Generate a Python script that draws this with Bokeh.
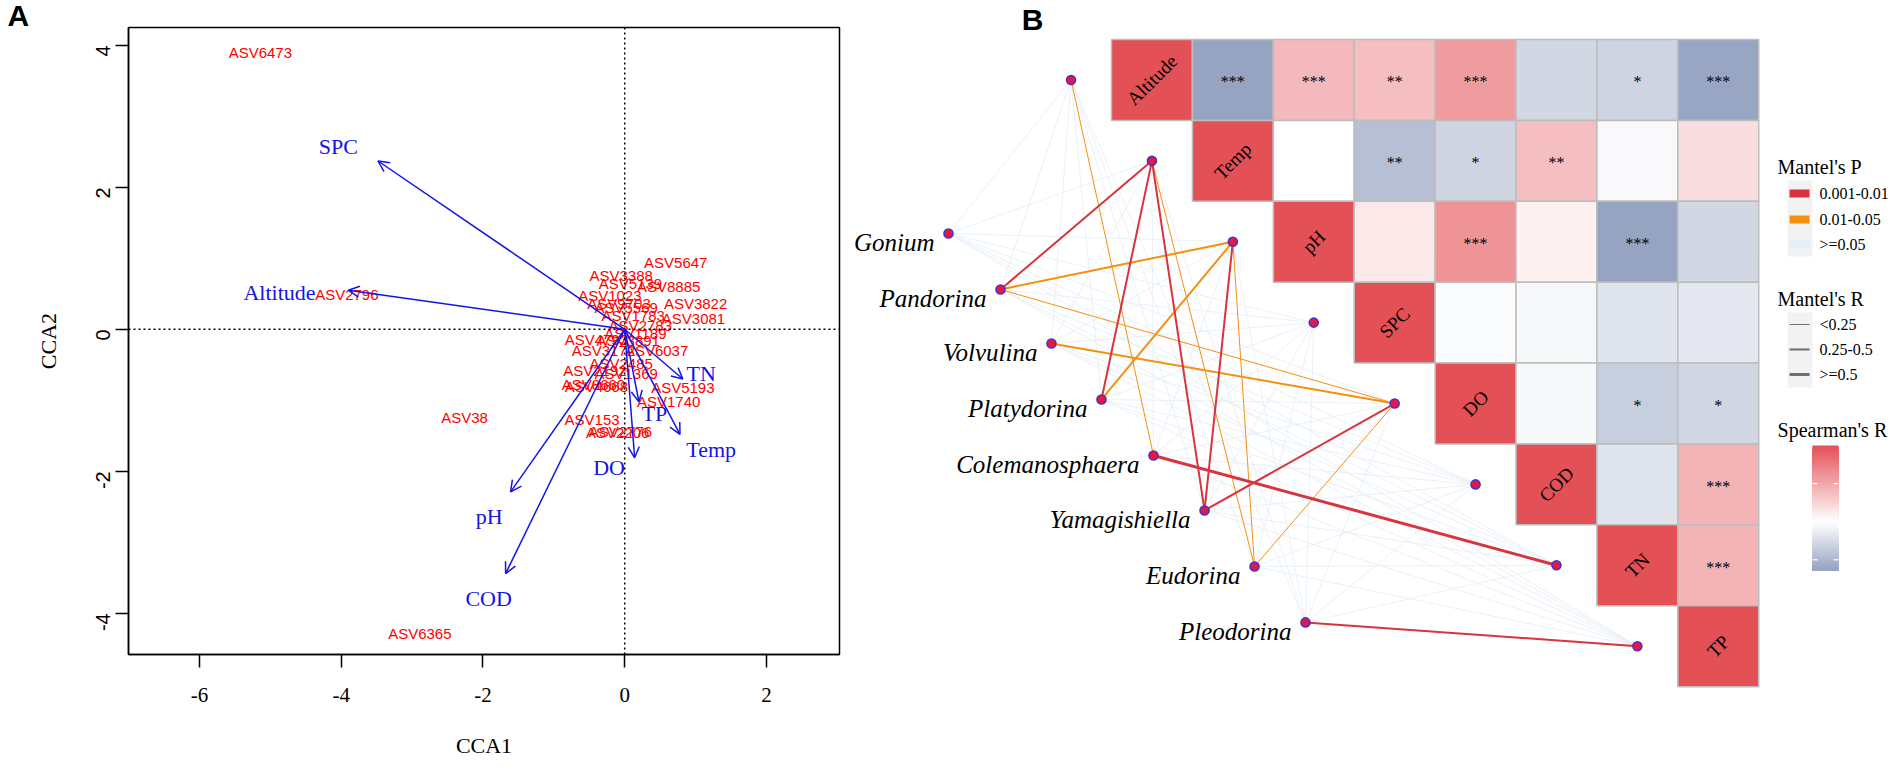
import math
from bokeh.plotting import figure
from bokeh.models import (ColumnDataSource, Range1d, Span, Arrow, OpenHead,
                          LinearColorMapper, FixedTicker, Title)
from bokeh.transform import transform
from bokeh.layouts import row, column
from bokeh.core.properties import value
from bokeh.embed import file_html
from bokeh.resources import INLINE

SERIF = "Liberation Serif"
SANS = "Liberation Sans"

# ---------------- Panel A data (CCA biplot) ----------------
asv_names = ["ASV6473", "ASV2796", "ASV38", "ASV6365", "ASV153", "ASV2206", "ASV2776",
             "ASV8660", "ASV4668", "ASV2192", "ASV2485", "ASV1369", "ASV4793", "ASV3172",
             "ASV6037", "ASV5193", "ASV1740", "ASV1023", "ASV5569", "ASV9703", "ASV1783",
             "ASV3388", "ASV5139", "ASV5647", "ASV8885", "ASV3822", "ASV3081", "ASV2783",
             "ASV1189", "ASV3891"]
asv_x = [-5.14, -3.92, -2.26, -2.89, -0.46, -0.10, -0.06,
         -0.44, -0.40, -0.42, -0.05, 0.02, -0.40, -0.30,
         0.45, 0.82, 0.62, -0.21, 0.02, -0.08, 0.12,
         -0.05, 0.08, 0.72, 0.62, 1.00, 0.97, 0.22,
         0.15, 0.05]
asv_y = [3.90, 0.49, -1.24, -4.29, -1.27, -1.45, -1.44,
         -0.78, -0.80, -0.58, -0.48, -0.62, -0.15, -0.30,
         -0.30, -0.82, -1.02, 0.48, 0.31, 0.36, 0.20,
         0.76, 0.64, 0.94, 0.60, 0.36, 0.15, 0.05,
         -0.06, -0.16]

env_arrow_names = ["SPC", "Altitude", "pH", "COD", "DO", "TP", "TN", "Temp"]
env_tip_x = [-3.48, -3.90, -1.61, -1.68, 0.14, 0.20, 0.82, 0.78]
env_tip_y = [2.37, 0.55, -2.29, -3.44, -1.81, -1.02, -0.70, -1.48]
env_lab_x = [-4.04, -4.87, -1.91, -1.92, -0.22, 0.42, 1.08, 1.22]
env_lab_y = [2.58, 0.52, -2.64, -3.79, -1.95, -1.18, -0.62, -1.70]

xticks_A = [-6, -4, -2, 0, 2]
yticks_A = [-4, -2, 0, 2, 4]

# ---------------- Panel B data (Mantel + Spearman) ----------------
env = ["Altitude", "Temp", "pH", "SPC", "DO", "COD", "TN", "TP"]
# upper triangle rows, starting at the diagonal
spearman_rows = [
    [1.00, -0.64, 0.40, 0.37, 0.57, -0.28, -0.30, -0.62],
    [1.00, 0.00, -0.44, -0.30, 0.37, -0.04, 0.19],
    [1.00, 0.14, 0.62, 0.08, -0.64, -0.28],
    [1.00, -0.03, -0.05, -0.19, -0.17],
    [1.00, -0.05, -0.34, -0.28],
    [1.00, -0.19, 0.43],
    [1.00, 0.43],
    [1.00],
]
star_rows = [
    ["", "***", "***", "**", "***", "", "*", "***"],
    ["", "", "**", "*", "**", "", ""],
    ["", "", "***", "", "***", ""],
    ["", "", "", "", ""],
    ["", "", "*", "*"],
    ["", "", "***"],
    ["", "***"],
    [""],
]

species = ["Gonium", "Pandorina", "Volvulina", "Platydorina", "Colemanosphaera",
           "Yamagishiella", "Eudorina", "Pleodorina"]
species_x = [-2.015, -1.372, -0.742, -0.124, 0.519, 1.150, 1.768, 2.398]
species_y = [2.398, 3.090, 3.758, 4.450, 5.142, 5.822, 6.514, 7.206]

# Mantel's P class: 0 = >=0.05, 1 = 0.01-0.05, 2 = 0.001-0.01   (species x env)
mantel_p_class = [
    [0, 0, 0, 0, 0, 0, 0, 0],
    [0, 2, 1, 0, 1, 0, 0, 0],
    [0, 0, 0, 0, 1, 0, 0, 0],
    [0, 2, 1, 0, 0, 0, 0, 0],
    [1, 0, 0, 0, 0, 0, 2, 0],
    [0, 2, 2, 0, 2, 0, 0, 0],
    [0, 1, 1, 0, 1, 0, 0, 0],
    [0, 0, 0, 0, 0, 0, 0, 2],
]
# Mantel's R class: 0 = <0.25, 1 = 0.25-0.5, 2 = >=0.5
mantel_r_class = [
    [0, 0, 0, 0, 0, 0, 0, 0],
    [0, 1, 1, 0, 0, 0, 0, 0],
    [0, 0, 0, 0, 1, 0, 0, 0],
    [0, 1, 1, 0, 0, 0, 0, 0],
    [0, 0, 0, 0, 0, 0, 2, 0],
    [0, 1, 1, 0, 1, 0, 0, 0],
    [0, 0, 0, 0, 0, 0, 0, 0],
    [0, 0, 0, 0, 0, 0, 0, 1],
]
p_labels = ["0.001-0.01", "0.01-0.05", ">=0.05"]
r_labels = ["<0.25", "0.25-0.5", ">=0.5"]
colorbar_ticks = [0.5, 0.0, -0.5]

# ---------------- styles ----------------
P_COLORS = {0: "#E3EEF8", 1: "#F5900F", 2: "#D8343F"}
R_WIDTHS = {0: 1.0, 1: 2.0, 2: 3.0}


def lerp_hex(c1, c2, t):
    a = [int(c1[i:i + 2], 16) for i in (1, 3, 5)]
    b = [int(c2[i:i + 2], 16) for i in (1, 3, 5)]
    return "#%02x%02x%02x" % tuple(round(a[k] + (b[k] - a[k]) * t) for k in range(3))


LOW, MID, HIGH = "#5A6E9E", "#FFFFFF", "#E35157"
palette = [lerp_hex(LOW, MID, i / 127) for i in range(128)] + \
          [lerp_hex(MID, HIGH, i / 127) for i in range(128)]
mapper = LinearColorMapper(palette=palette, low=-1, high=1)

# ================= Panel A =================
pA = figure(frame_width=711, frame_height=627,
            min_border_left=128, min_border_right=3, min_border_top=27, min_border_bottom=109,
            x_range=Range1d(-7, 3.03), y_range=Range1d(-4.58, 4.25),
            output_backend="svg", toolbar_location=None,
            x_axis_label="CCA1", y_axis_label="CCA2")
pA.title.visible = False
ttl = Title(text="A", align="left", offset=-121,
            text_font=SANS, text_font_style="bold", text_font_size="30px",
            text_color="black")
try:
    ttl.standoff = -8
except Exception:
    ttl.standoff = 0
pA.add_layout(ttl, "above")
pA.grid.visible = False
pA.background_fill_color = "white"
pA.outline_line_color = "black"
pA.outline_line_width = 1.5
pA.outline_line_alpha = 1.0

xa = pA.xaxis[0]
ya = pA.yaxis[0]
xa.ticker = FixedTicker(ticks=xticks_A)
ya.ticker = FixedTicker(ticks=yticks_A)
xa.major_label_overrides = {t: str(t) for t in xticks_A}
ya.major_label_overrides = {t: str(t) for t in yticks_A}
for ax in (xa, ya):
    ax.major_tick_out = 13
    ax.major_tick_in = 0
    ax.minor_tick_out = 0
    ax.minor_tick_in = 0
    ax.major_tick_line_width = 1.5
    ax.major_tick_line_color = "black"
    ax.axis_line_width = 1.5
    ax.axis_line_color = "black"
    ax.axis_label_text_font = SERIF
    ax.axis_label_text_font_style = "normal"
    ax.axis_label_text_font_size = "22px"
    ax.axis_label_text_color = "black"
    ax.major_label_text_color = "black"
xa.major_label_text_font = SERIF
xa.major_label_text_font_size = "21px"
xa.major_label_standoff = 20
xa.axis_label_standoff = 28
ya.major_label_text_font = SANS
ya.major_label_text_font_size = "20px"
ya.major_label_orientation = math.pi / 2
ya.major_label_standoff = 12
ya.axis_label_standoff = 26

pA.add_layout(Span(location=0, dimension="height", line_color="black",
                   line_width=1.5, line_dash="2 3"))
pA.add_layout(Span(location=0, dimension="width", line_color="black",
                   line_width=1.5, line_dash="2 3"))

asv_src = ColumnDataSource(dict(x=asv_x, y=asv_y, t=asv_names))
pA.text(x="x", y="y", text="t", source=asv_src, text_color="#FF0000",
        text_font=value(SANS), text_font_size="15px",
        text_align="center", text_baseline="middle")

arr_src = ColumnDataSource(dict(x0=[0.0] * len(env_tip_x), y0=[0.0] * len(env_tip_y),
                                x1=env_tip_x, y1=env_tip_y))
pA.add_layout(Arrow(end=OpenHead(size=11, line_color="#1414E6", line_width=1.5),
                    source=arr_src, x_start="x0", y_start="y0", x_end="x1", y_end="y1",
                    line_color="#1414E6", line_width=1.5))
env_src = ColumnDataSource(dict(x=env_lab_x, y=env_lab_y, t=env_arrow_names))
pA.text(x="x", y="y", text="t", source=env_src, text_color="#1414E6",
        text_font=value(SERIF), text_font_size="22px",
        text_align="center", text_baseline="middle")

# ================= Panel B =================
pB = figure(width=1046, height=763, min_border=0,
            x_range=Range1d(-3.325, 9.604), y_range=Range1d(8.95, -0.482),
            output_backend="svg", toolbar_location=None)
pB.axis.visible = False
pB.grid.visible = False
pB.outline_line_color = None
pB.background_fill_color = "white"

n = len(env)
env_node_x = [i - 0.5 for i in range(n)]
env_node_y = [i + 0.5 for i in range(n)]

# links
links = []
for s in range(len(species)):
    for e in range(n):
        links.append((mantel_p_class[s][e], mantel_r_class[s][e], s, e))
links.sort(key=lambda t: (t[0] > 0, t[0], t[1]))
lk = dict(x0=[], y0=[], x1=[], y1=[], c=[], w=[], a=[])
for pc, rc, s, e in links:
    lk["x0"].append(species_x[s]); lk["y0"].append(species_y[s])
    lk["x1"].append(env_node_x[e]); lk["y1"].append(env_node_y[e])
    lk["c"].append(P_COLORS[pc]); lk["w"].append(R_WIDTHS[rc])
    lk["a"].append(0.8 if pc == 0 else 1.0)
pB.segment(x0="x0", y0="y0", x1="x1", y1="y1", source=ColumnDataSource(lk),
           line_color="c", line_width="w", line_alpha="a")

# heatmap
hm = dict(x=[], y=[], r=[], star=[])
diag = dict(x=[], y=[], t=[])
for i in range(n):
    for k, rv in enumerate(spearman_rows[i]):
        j = i + k
        hm["x"].append(j + 0.5); hm["y"].append(i + 0.5)
        hm["r"].append(rv); hm["star"].append(star_rows[i][k])
    diag["x"].append(i + 0.5); diag["y"].append(i + 0.5); diag["t"].append(env[i])
hm_src = ColumnDataSource(hm)
pB.rect(x="x", y="y", width=1, height=1, source=hm_src,
        fill_color=transform("r", mapper), line_color="#BDBDBD", line_width=1.5)
pB.text(x="x", y="y", text="star", source=hm_src, y_offset=2,
        text_font=value(SERIF), text_font_size="16px", text_color="black",
        text_align="center", text_baseline="middle")
pB.text(x="x", y="y", text="t", source=ColumnDataSource(diag), angle=math.pi / 4,
        text_font=value(SERIF), text_font_size="19px", text_color="black",
        text_align="center", text_baseline="middle")

# nodes
pB.scatter(x=env_node_x, y=env_node_y, size=9, fill_color="#E5193F",
           line_color="#4632C8", line_width=1.6)
pB.scatter(x=species_x, y=species_y, size=9, fill_color="#E5193F",
           line_color="#4632C8", line_width=1.6)
pB.text(x=species_x, y=species_y, text=species, x_offset=-14, y_offset=9,
        text_font=value(SERIF), text_font_style="italic", text_font_size="25px",
        text_color="black", text_align="right", text_baseline="middle")

pB.text(x=[-0.977], y=[-0.25], text=["B"], text_font=value(SANS), text_font_style="bold",
        text_font_size="30px", text_color="black", text_align="center", text_baseline="middle")


# legend (pixel layout converted to cell units)
def cx(px):
    return (px - 1119) / 80.9


def cy(py):
    return (py - 47) / 80.9


LX_T, LX_K0, LX_K1, LX_L = 1785, 1797, 1817, 1827
pB.text(x=[cx(LX_T)] * 3, y=[cy(175), cy(307), cy(438)],
        text=["Mantel's P", "Mantel's R", "Spearman's R"],
        text_font=value(SERIF), text_font_size="20px", text_color="black",
        text_align="left", text_baseline="middle")
# key backgrounds
pB.quad(left=[cx(1795)] * 2, right=[cx(1820)] * 2, top=[cy(188), cy(320)],
        bottom=[cy(264), cy(395)], fill_color="#F2F2F2", line_color=None)
p_key_y = [cy(201), cy(227), cy(252)]
r_key_y = [cy(332), cy(357), cy(382)]
pB.rect(x=[(cx(LX_K0) + cx(LX_K1)) / 2] * 3, y=p_key_y, width=cx(LX_K1) - cx(LX_K0),
        height=0.1, fill_color=[P_COLORS[2], P_COLORS[1], P_COLORS[0]], line_color=None)
pB.text(x=[cx(LX_L)] * 3, y=p_key_y, text=p_labels, text_font=value(SERIF),
        text_font_size="16px", text_color="black", text_align="left", text_baseline="middle")
pB.segment(x0=[cx(LX_K0)] * 3, x1=[cx(LX_K1)] * 3, y0=r_key_y, y1=r_key_y,
           line_color="#6E6E6E", line_width=[R_WIDTHS[0], R_WIDTHS[1], R_WIDTHS[2]])
pB.text(x=[cx(LX_L)] * 3, y=r_key_y, text=r_labels, text_font=value(SERIF),
        text_font_size="16px", text_color="black", text_align="left", text_baseline="middle")

# colour bar: stacked quads, each reaching the bar bottom so no seams show
all_r = [v for rr in spearman_rows for v in rr]
vmin, vmax = min(all_r), max(all_r)
CB_L, CB_R, CB_T, CB_B = cx(1820), cx(1846), cy(453), cy(578)
NSTEP = 100
cb = dict(left=[], right=[], top=[], bottom=[], v=[])
for k in range(NSTEP):
    v = vmax - (k + 0.5) * (vmax - vmin) / NSTEP
    cb["left"].append(CB_L); cb["right"].append(CB_R)
    cb["top"].append(CB_T + k * (CB_B - CB_T) / NSTEP)
    cb["bottom"].append(CB_B)
    cb["v"].append(v)
pB.quad(left="left", right="right", top="top", bottom="bottom", source=ColumnDataSource(cb),
        fill_color=transform("v", mapper), line_color=None)
tk_y = [CB_T + (vmax - t) / (vmax - vmin) * (CB_B - CB_T) for t in colorbar_ticks]
tw = 5 / 80.9
pB.segment(x0=[CB_L] * 3, x1=[CB_L + tw] * 3, y0=tk_y, y1=tk_y, line_color="white", line_width=1.2)
pB.segment(x0=[CB_R - tw] * 3, x1=[CB_R] * 3, y0=tk_y, y1=tk_y, line_color="white", line_width=1.2)

layout = row(column(pA), column(pB))
open("out.html", "w").write(file_html(layout, INLINE))
